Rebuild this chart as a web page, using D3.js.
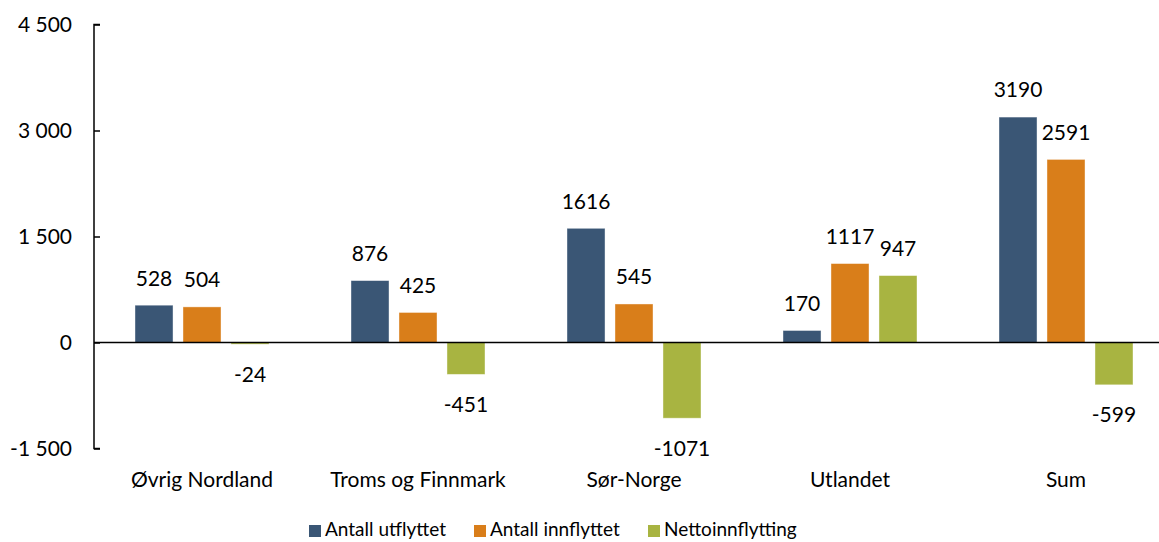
<!DOCTYPE html>
<html>
<head>
<meta charset="utf-8">
<script src="https://cdn.jsdelivr.net/npm/d3@7"></script>
<style>
  body { margin: 0; background: #fff; }
  text { font-family: Lato, "Open Sans", sans-serif; fill: #000; }
</style>
</head>
<body>
<script>
const categories = ["Øvrig Nordland", "Troms og Finnmark", "Sør-Norge", "Utlandet", "Sum"];
const seriesNames = ["Antall utflyttet", "Antall innflyttet", "Nettoinnflytting"];
const utflyttet = [528, 876, 1616, 170, 3190];
const innflyttet = [504, 425, 545, 1117, 2591];
const netto = [-24, -451, -1071, 947, -599];
const yTicks = [-1500, 0, 1500, 3000, 4500];
const colors = ["#3a5675", "#d97e1a", "#a8b441"];

const svgWidth = 1159, svgHeight = 542;
const series = [utflyttet, innflyttet, netto];
const fs = 21;

var svg = d3.select("body").append("svg")
    .attr("width", svgWidth)
    .attr("height", svgHeight);

var x = d3.scaleBand().domain(categories).range([94, 1174]);
var y = d3.scaleLinear().domain([-1500, 4500]).range([448.5, 24.5]);

// "1 500" style, hyphen for minus
var fmt = function (d) { return d3.format(",")(d).replace(/,/g, " ").replace("\u2212", "-"); };

// rows of [category, series index, value]
var rows = [];
categories.forEach(function (c, i) {
    series.forEach(function (s, j) { rows.push({ cat: c, s: j, v: s[i] }); });
});

var xs = d3.scaleBand().domain([0, 1, 2]).range([-67, 67]).paddingInner(0.208);

var bars = svg.append("g").selectAll("g")
    .data(rows)
    .enter().append("g")
    .attr("transform", function (d) { return "translate(" + (x(d.cat) + x.bandwidth() / 2) + ",0)"; });

bars.append("rect")
    .attr("x", function (d) { return xs(d.s); })
    .attr("width", xs.bandwidth())
    .attr("y", function (d) { return y(Math.max(0, d.v)); })
    .attr("height", function (d) { return Math.abs(y(d.v) - y(0)); })
    .attr("fill", function (d) { return colors[d.s]; })
    .attr("stroke", "#fff")
    .attr("stroke-opacity", 0.5)
    .attr("stroke-width", 0.8);

bars.append("text")
    .attr("x", function (d) { return xs(d.s) + xs.bandwidth() / 2; })
    .attr("y", function (d) { return d.v >= 0 ? y(d.v) - 27 : y(d.v) + 30; })
    .attr("dy", "0.35em")
    .attr("text-anchor", "middle")
    .attr("font-size", fs)
    .text(function (d) { return d.v; });

// y axis
var yAxis = svg.append("g")
    .attr("transform", "translate(94,0)")
    .call(d3.axisRight(y).tickValues(yTicks).tickSize(6).tickFormat(fmt));
yAxis.select(".domain").attr("stroke", "#000").attr("stroke-width", 1.5)
    .attr("d", "M6," + y(4500) + "H0V" + y(-1500) + "H6");
yAxis.selectAll(".tick line").attr("stroke", "#000").attr("stroke-width", 1.5);
yAxis.selectAll(".tick text")
    .attr("x", -22)
    .attr("text-anchor", "end")
    .attr("font-size", fs)
    .attr("font-family", "Lato, sans-serif")
    .attr("fill", "#000");

// zero line
svg.append("line")
    .attr("x1", 94).attr("x2", svgWidth)
    .attr("y1", y(0)).attr("y2", y(0))
    .attr("stroke", "#000").attr("stroke-width", 1.5);

// category labels
svg.append("g").selectAll("text")
    .data(categories)
    .enter().append("text")
    .attr("x", function (d) { return x(d) + x.bandwidth() / 2; })
    .attr("y", 480)
    .attr("dy", "0.35em")
    .attr("text-anchor", "middle")
    .attr("font-size", fs)
    .text(function (d) { return d; });

// legend
var legX = [309, 474, 648];
var leg = svg.append("g").selectAll("g")
    .data(seriesNames)
    .enter().append("g")
    .attr("transform", function (d, i) { return "translate(" + legX[i] + ",529)"; });
leg.append("rect")
    .attr("x", 0).attr("y", -4)
    .attr("width", 12).attr("height", 12)
    .attr("fill", function (d, i) { return colors[i]; });
leg.append("text")
    .attr("x", 16)
    .attr("dy", "0.35em")
    .attr("font-size", 19)
    .text(function (d) { return d; });
</script>
</body>
</html>
